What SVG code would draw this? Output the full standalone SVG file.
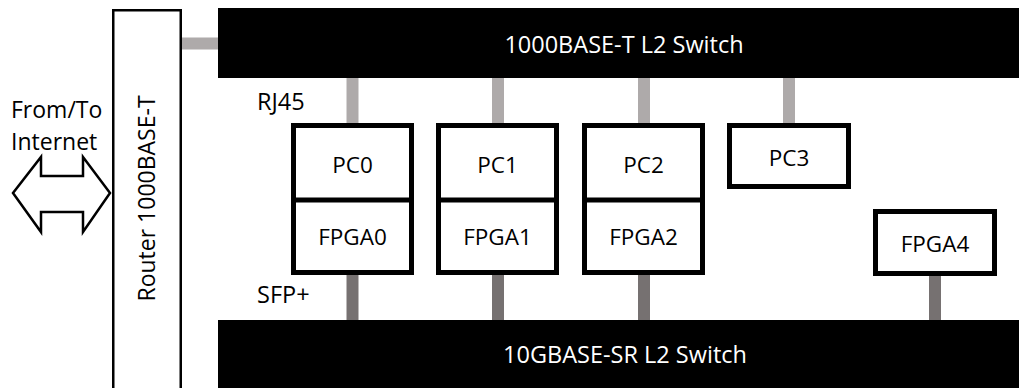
<svg xmlns="http://www.w3.org/2000/svg" width="1019" height="388" viewBox="0 0 1019 388">
<style>
text{font-family:"Open Sans","Noto Sans","Liberation Sans",sans-serif;fill:#000;}
.lbl{font-size:22.5px;text-anchor:middle;}
.sw{font-size:23.5px;fill:#fff;text-anchor:middle;}
.box{fill:#fff;stroke:#000;stroke-width:5;}
.lt{stroke:#aeaaaa;stroke-width:12;}
.dk{stroke:#767171;stroke-width:12;}
</style>
<rect width="1019" height="388" fill="#fff"/>
<g id="connectors">
<line class="lt" x1="182" y1="43.5" x2="218" y2="43.5"/>
<line class="lt" x1="352.5" y1="78" x2="352.5" y2="123"/>
<line class="lt" x1="498" y1="78" x2="498" y2="123"/>
<line class="lt" x1="644" y1="78" x2="644" y2="123"/>
<line class="lt" x1="789" y1="78" x2="789" y2="123"/>
<line class="dk" x1="352.5" y1="275" x2="352.5" y2="320"/>
<line class="dk" x1="498" y1="275" x2="498" y2="320"/>
<line class="dk" x1="644" y1="275" x2="644" y2="320"/>
<line class="dk" x1="935" y1="276" x2="935" y2="320"/>
<polygon points="13,193 41,157 41,176 83,176 83,157 110,193 83,232 83,212 41,212 41,232" fill="#fff" stroke="#000" stroke-width="2.5" stroke-linejoin="miter"/>
</g>
<g id="internet">
<text x="11" y="118" font-size="23">From/To</text>
<text x="11" y="150" font-size="23">Internet</text>
</g>
<g id="router">
<rect x="113.25" y="10.25" width="67.5" height="380" fill="#fff" stroke="#000" stroke-width="2.5"/>
<text class="lbl" transform="translate(155,198.5) rotate(-90)" style="font-size:23px">Router 1000BASE-T</text>
</g>
<g id="switch1g">
<rect x="218" y="8" width="801" height="70" fill="#000"/>
<text class="sw" x="624" y="53">1000BASE-T L2 Switch</text>
</g>
<g id="switch10g">
<rect x="218" y="320" width="801" height="68" fill="#000"/>
<text class="sw" x="625" y="363">10GBASE-SR L2 Switch</text>
</g>
<g id="port-labels">
<text x="257" y="110" font-size="23.5">RJ45</text>
<text x="257" y="303" font-size="23.5">SFP+</text>
</g>
<g id="node0">
<rect class="box" x="293.5" y="125.5" width="118" height="147"/>
<line x1="293.5" y1="200" x2="411.5" y2="200" stroke="#000" stroke-width="5"/>
<text class="lbl" x="352.5" y="173">PC0</text>
<text class="lbl" x="352.5" y="245">FPGA0</text>
</g>
<g id="node1">
<rect class="box" x="438.5" y="125.5" width="118" height="147"/>
<line x1="438.5" y1="200" x2="556.5" y2="200" stroke="#000" stroke-width="5"/>
<text class="lbl" x="497.5" y="173">PC1</text>
<text class="lbl" x="497.5" y="245">FPGA1</text>
</g>
<g id="node2">
<rect class="box" x="584.5" y="125.5" width="118" height="147"/>
<line x1="584.5" y1="200" x2="702.5" y2="200" stroke="#000" stroke-width="5"/>
<text class="lbl" x="643.5" y="173">PC2</text>
<text class="lbl" x="643.5" y="245">FPGA2</text>
</g>
<g id="pc3">
<rect class="box" x="729.5" y="125.5" width="119" height="61"/>
<text class="lbl" x="789" y="166">PC3</text>
</g>
<g id="fpga4">
<rect class="box" x="875.5" y="211.5" width="119" height="62"/>
<text class="lbl" x="935" y="252">FPGA4</text>
</g>
</svg>
